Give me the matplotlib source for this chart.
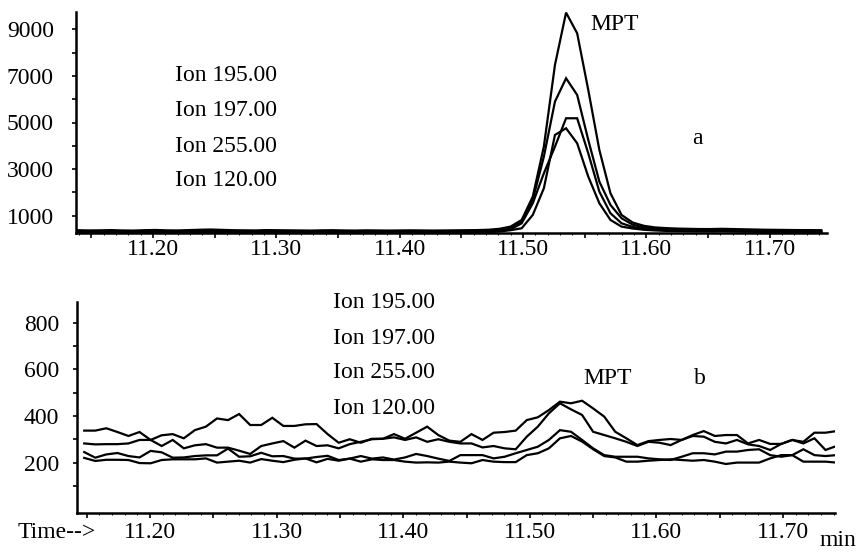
import numpy as np
import matplotlib
matplotlib.use('Agg')
import matplotlib.pyplot as plt
from matplotlib.ticker import MultipleLocator

plt.rcParams['font.family'] = ['Liberation Serif', 'DejaVu Serif']

# ---------------- data ----------------
ion_labels = ['Ion 195.00', 'Ion 197.00', 'Ion 255.00', 'Ion 120.00']
x_ticks = [11.15, 11.20, 11.25, 11.30, 11.35, 11.40, 11.45, 11.50, 11.55, 11.60, 11.65, 11.70]
x_tick_labels = ['', '11.20', '', '11.30', '', '11.40', '', '11.50', '', '11.60', '', '11.70']
top_y_ticks = [1000, 2000, 3000, 4000, 5000, 6000, 7000, 8000, 9000]
top_y_labels = ['1000', '', '3000', '', '5000', '', '7000', '', '9000']
bot_y_ticks = [100, 200, 300, 400, 500, 600, 700, 800]
bot_y_labels = ['', '200', '', '400', '', '600', '', '800']

# panel a: scan start / interval (min)
top_t0, top_dt = 11.139, 0.009
top_line1 = [370, 360, 365, 375, 360, 355, 370, 380, 365, 360,
             375, 390, 400, 385, 370, 365, 360, 375, 370, 365,
             360, 355, 365, 370, 360, 355, 365, 360, 355, 360,
             365, 360, 355, 360, 365, 370, 375, 390, 430, 525,
             811, 1814, 3964, 7475, 9724, 8836, 6400, 3820, 1958, 1026,
             700, 560, 490, 460, 440, 430, 420, 420, 430, 420,
             410, 400, 390, 385, 380, 375, 375, 370]
top_line2 = [330, 325, 320, 330, 325, 320, 325, 335, 330, 325,
             330, 345, 360, 350, 335, 325, 320, 330, 325, 320,
             320, 315, 325, 330, 320, 315, 320, 320, 315, 320,
             325, 320, 315, 320, 325, 330, 335, 350, 380, 481,
             739, 1671, 3534, 5898, 6901, 6185, 4250, 2459, 1456, 883,
             610, 490, 440, 410, 395, 385, 380, 375, 385, 375,
             365, 360, 350, 345, 340, 335, 335, 330]
top_line3 = [300, 295, 290, 300, 295, 290, 295, 305, 300, 295,
             300, 315, 325, 315, 305, 295, 290, 300, 295, 290,
             290, 285, 295, 300, 290, 285, 290, 290, 285, 290,
             295, 290, 285, 290, 295, 300, 305, 315, 340, 400,
             668, 1528, 2817, 3964, 5182, 5182, 3677, 2029, 1098, 668,
             510, 440, 400, 380, 365, 355, 350, 345, 355, 345,
             335, 330, 320, 315, 310, 305, 305, 300]
top_line4 = [275, 270, 265, 275, 270, 265, 270, 280, 275, 270,
             275, 290, 300, 290, 280, 270, 265, 275, 270, 265,
             265, 260, 270, 275, 265, 260, 265, 265, 260, 265,
             270, 265, 260, 265, 270, 275, 280, 290, 315, 370,
             453, 1026, 2173, 4465, 4752, 4107, 2674, 1528, 811, 525,
             443, 390, 360, 340, 330, 325, 320, 315, 325, 315,
             305, 300, 290, 285, 280, 275, 275, 270]

# panel b: scan start / interval (min)
bot_t0, bot_dt = 11.148, 0.00874
bot_line1 = [283, 279, 280, 280, 283, 298, 298, 318, 323, 305,
             340, 355, 390, 383, 409, 362, 362, 393, 358, 358,
             365, 366, 323, 286, 301, 286, 303, 303, 323, 303,
             329, 355, 319, 295, 290, 323, 298, 329, 332, 338,
             383, 395, 426, 462, 455, 466, 433, 398, 333, 305,
             276, 293, 298, 302, 298, 319, 336, 315, 319, 319,
             283, 298, 281, 281, 298, 290, 329, 329, 336]
bot_line2 = [338, 338, 348, 332, 315, 332, 298, 272, 298, 262,
             275, 280, 265, 265, 252, 238, 272, 283, 293, 265,
             295, 272, 275, 262, 280, 290, 301, 303, 309, 298,
             309, 290, 301, 290, 283, 283, 266, 272, 262, 258,
             312, 355, 412, 455, 429, 405, 333, 319, 305, 290,
             272, 290, 286, 276, 298, 315, 312, 290, 283, 298,
             279, 272, 255, 281, 298, 283, 305, 255, 272]
bot_line3 = [246, 222, 236, 242, 229, 223, 251, 245, 222, 223,
             229, 232, 232, 261, 226, 228, 243, 228, 229, 218,
             218, 225, 230, 212, 218, 229, 218, 223, 214, 223,
             238, 229, 218, 208, 233, 233, 233, 219, 226, 241,
             255, 269, 298, 340, 333, 298, 262, 233, 226, 226,
             226, 219, 215, 212, 226, 241, 241, 236, 248, 248,
             255, 258, 233, 226, 233, 258, 233, 229, 233]
bot_line4 = [221, 208, 213, 213, 212, 199, 198, 212, 215, 215,
             215, 219, 201, 205, 209, 201, 216, 209, 203, 213,
             219, 202, 217, 209, 218, 205, 215, 212, 212, 205,
             201, 202, 201, 205, 201, 198, 212, 205, 203, 203,
             233, 241, 262, 305, 315, 291, 258, 229, 223, 205,
             205, 209, 212, 215, 212, 209, 212, 205, 195, 201,
             201, 201, 219, 233, 233, 205, 205, 205, 201]

# ---------------- figure ----------------
W, H = 868, 552
fig = plt.figure(figsize=(W / 100, H / 100), dpi=100)


def px_axes(l, t, r, b):
    return fig.add_axes([l / W, 1 - b / H, (r - l) / W, (b - t) / H])


def ftext(x, y, s, ha='left', va='center', size=17):
    fig.text(x / W, 1 - y / H, s, ha=ha, va=va, fontsize=size, color='black')


ax1 = px_axes(76, 12, 827, 233)
ax2 = px_axes(77, 302, 835, 513)

top_series = [top_line1, top_line2, top_line3, top_line4]
bot_series = [bot_line1, bot_line2, bot_line3, bot_line4]

for s in top_series:
    t = top_t0 + top_dt * np.arange(len(s))
    ax1.plot(t, s, color='black', lw=1.6, solid_joinstyle='miter')
for s in bot_series:
    t = bot_t0 + bot_dt * np.arange(len(s))
    ax2.plot(t, s, color='black', lw=1.6, solid_joinstyle='miter')

ax1.set_xlim(11.1376, 11.7466)
ax1.set_ylim(250, 9750)
ax2.set_xlim(11.1423, 11.7411)
ax2.set_ylim(-15, 889)

for ax, yt, yl, ypad, xpad in [(ax1, top_y_ticks, top_y_labels, 13, 0.5),
                               (ax2, bot_y_ticks, bot_y_labels, 10, 3)]:
    for side in ['top', 'right']:
        ax.spines[side].set_visible(False)
    for side in ['left', 'bottom']:
        ax.spines[side].set_linewidth(1.8)
    ax.set_xticks(x_ticks)
    ax.set_xticklabels(x_tick_labels)
    ax.set_yticks(yt)
    ax.set_yticklabels(yl)
    ax.xaxis.set_minor_locator(MultipleLocator(0.01))
    ax.tick_params(axis='x', which='major', direction='out', length=3.5, width=1.2,
                   labelsize=17, pad=xpad)
    ax.tick_params(axis='x', which='minor', direction='out', length=1.5, width=0.8)
    ax.tick_params(axis='y', which='major', direction='out', length=3, width=1.2,
                   labelsize=17, pad=ypad)

# ---------------- annotations ----------------
ion_x = 175
for k, lab in enumerate(ion_labels):
    ftext(ion_x, 76 + 35 * k, lab)
ftext(615, 24, 'MPT', ha='center')
ftext(697, 138, 'a', ha='center')

for k, lab in enumerate(ion_labels):
    ftext(333, 303 + 35 * k, lab)
ftext(608, 378, 'MPT', ha='center')
ftext(700, 378, 'b', ha='center')

ftext(18, 532, 'Time-->')
ftext(820, 540, 'min')

fig.savefig('out.png', dpi=100)
